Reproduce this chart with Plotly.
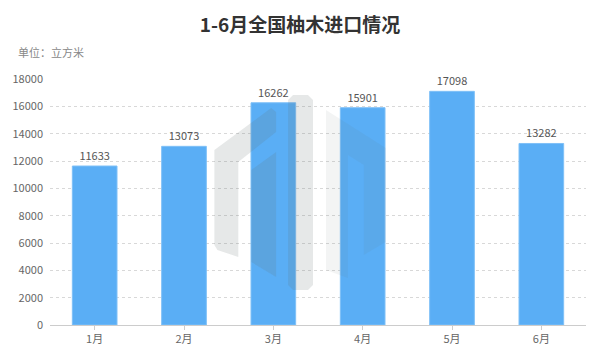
import plotly.graph_objects as go

months = ["1月", "2月", "3月", "4月", "5月", "6月"]
volumes = [11633, 13073, 16262, 15901, 17098, 13282]
y_ticks = [0, 2000, 4000, 6000, 8000, 10000, 12000, 14000, 16000, 18000]

W, H = 600, 364
ML, MR, MT, MB = 48, 14, 79, 39
PW, PH = W - ML - MR, H - MT - MB
FONT = "Noto Sans CJK SC"

fig = go.Figure(go.Bar(
    x=months, y=volumes,
    marker=dict(color="#5aaef5", line=dict(color="#7fc0f7", width=1)),
    width=0.5,
    text=[str(v) for v in volumes], textposition="outside",
    textfont=dict(size=11, color="#555", family=FONT),
    cliponaxis=False,
))

def px(x, y):
    return (x - ML) / PW, 1 - (y - MT) / PH

def path(pts):
    s = ""
    for i, (x, y) in enumerate(pts):
        a, b = px(x, y)
        s += ("M" if i == 0 else "L") + f"{a:.4f},{b:.4f} "
    return s + "Z"

# watermark logo (decorative)
wm = [
    ([(270, 108), (275, 112), (275, 132), (237, 162), (237, 257), (216, 250), (213, 245), (213, 150)], 0.16),
    ([(250, 170), (275, 152), (275, 277), (250, 262)], 0.16),
    ([(287, 100), (292, 95), (307, 95), (312, 100), (312, 285), (307, 290), (292, 290), (287, 285)], 0.16),
    ([(325, 110), (385, 148), (385, 242), (363, 255), (363, 165), (347, 155), (347, 278), (325, 270)], 0.08),
]
shapes = []
for pts, op in wm:
    shapes.append(dict(type="path", xref="paper", yref="paper", path=path(pts),
                       fillcolor=f"rgba(100,110,110,{op})", line=dict(width=0), layer="above"))

fig.update_layout(
    width=W, height=H,
    margin=dict(l=ML, r=MR, t=MT, b=MB),
    paper_bgcolor="white", plot_bgcolor="white",
    showlegend=False,
    bargap=0.5,
    font=dict(family=FONT, color="#666", size=11),
    title=dict(text="<b>1-6月全国柚木进口情况</b>", x=0.5, xanchor="center",
               y=1 - 25 / H, yanchor="middle",
               font=dict(size=19, color="#333", family=FONT)),
    xaxis=dict(showline=True, linecolor="#ccc", linewidth=1, ticks="outside",
               ticklen=4, tickcolor="#ccc", showgrid=False,
               tickfont=dict(size=11, color="#666")),
    yaxis=dict(range=[0, 18000], tickvals=y_ticks, ticktext=[str(v) for v in y_ticks],
               showline=False, zeroline=False,
               showgrid=True, gridcolor="#d8d8d8", griddash="3px,3px", gridwidth=1,
               tickfont=dict(size=11, color="#666"), ticks="", ticklabelstandoff=6),
    shapes=shapes,
    annotations=[dict(text="单位：立方米", xref="paper", yref="paper",
                      x=(14 - ML) / PW, xanchor="left", y=1 + (MT - 52) / PH, yanchor="middle",
                      showarrow=False, font=dict(size=11, color="#888", family=FONT))],
)

fig.write_html("out.html")
